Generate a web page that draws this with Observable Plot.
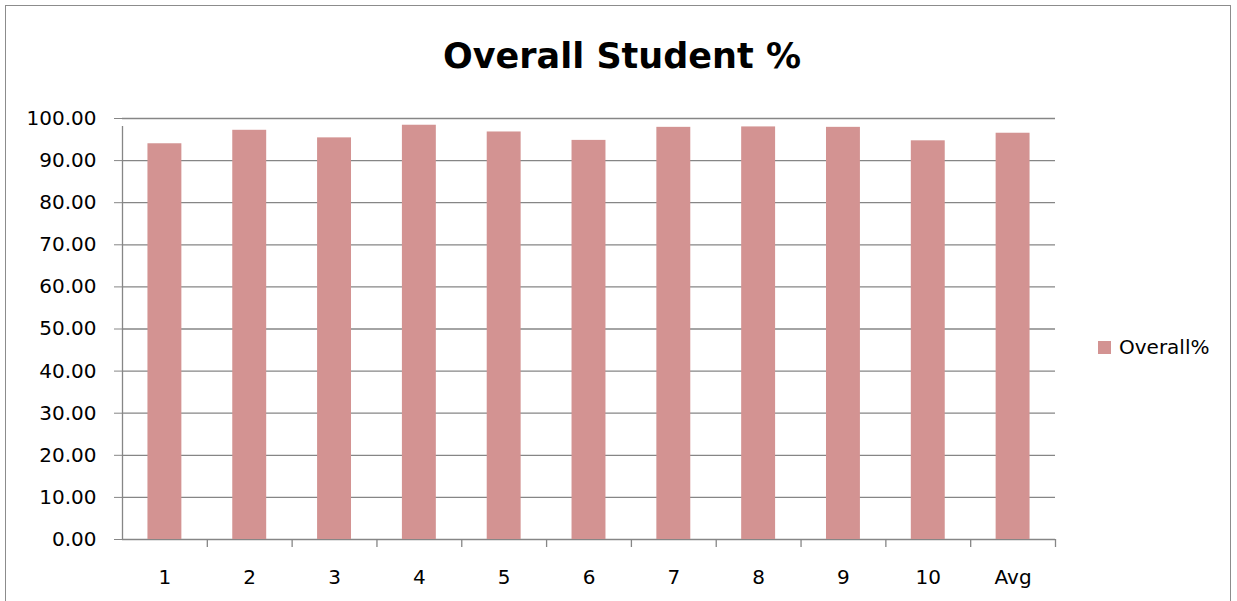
<!DOCTYPE html>
<html>
<head>
<meta charset="utf-8">
<script src="https://cdn.jsdelivr.net/npm/d3@7"></script>
<script src="https://cdn.jsdelivr.net/npm/@observablehq/plot@0.6"></script>
<style>
  html, body { margin: 0; padding: 0; background: #fff; overflow: hidden; }
  #wrap { position: relative; width: 1237px; height: 601px; font-family: "DejaVu Sans", sans-serif; }
  #border { position: absolute; left: 5px; top: 5px; width: 1226px; height: 620px; border: 1.5px solid #8c8c8c; box-sizing: border-box; }
  #title { position: absolute; left: 0; width: 1244px; top: 36px; text-align: center; font-weight: bold; font-size: 35px; color: #000; }
  #chart { position: absolute; left: 0; top: 0; }
  #legend { position: absolute; left: 1098px; top: 335px; font-size: 20px; color: #000; display: flex; align-items: center; }
  #legend .sw { width: 13px; height: 13px; background: #d39392; margin-right: 8px; }
</style>
</head>
<body>
<div id="wrap">
  <div id="border"></div>
  <div id="title">Overall Student %</div>
  <div id="chart"></div>
  <div id="legend"><div class="sw"></div><span>Overall%</span></div>
</div>
<script>
const categories = ["1", "2", "3", "4", "5", "6", "7", "8", "9", "10", "Avg"];
const overall = [94.0, 97.2, 95.4, 98.4, 96.8, 94.8, 97.9, 98.0, 97.9, 94.7, 96.5];
const yTicks = [0, 10, 20, 30, 40, 50, 60, 70, 80, 90, 100];
const seriesName = "Overall%";

const data = categories.map((c, i) => ({ cat: c, value: overall[i] }));

const W = 1237, H = 601;
const mL = 122, mR = 182, mT = 118, mB = 62;
const step = (W - mL - mR) / categories.length;
const grey = "#868686";

const chart = Plot.plot({
  width: W,
  height: H,
  marginLeft: mL,
  marginRight: mR,
  marginTop: mT,
  marginBottom: mB,
  style: { fontFamily: "DejaVu Sans, sans-serif", fontSize: "20px", color: "#000", background: "transparent" },
  x: { domain: categories, paddingInner: 0.6, paddingOuter: 0.3, align: 0.5, round: false, label: null },
  y: { domain: [0, 100], label: null },
  marks: [
    Plot.ruleY(yTicks, { stroke: grey, strokeWidth: 1.3, strokeOpacity: 1 }),
    Plot.barY(data, { x: "cat", y: "value", fill: "#d39392" }),
    Plot.axisY({ ticks: yTicks, tickFormat: d3.format(".2f"), tickSize: 8, tickPadding: 18, stroke: grey, strokeOpacity: 1, fill: "#000", fontSize: 20 }),
    // y axis line
    Plot.ruleX([categories[0]], { x: d => d, dx: -step / 2, y1: 0, y2: 100, insetBottom: -8, stroke: grey, strokeWidth: 1.3, strokeOpacity: 1 }),
    // category boundary ticks below the x axis
    Plot.ruleX(categories, { x: d => d, dx: step / 2, y1: 0, y2: 0, insetBottom: -8, stroke: grey, strokeWidth: 1.3, strokeOpacity: 1 }),
    Plot.axisX({ tickSize: 0, tickPadding: 30, fontSize: 20, fill: "#000" })
  ]
});
document.getElementById("chart").appendChild(chart);
</script>
</body>
</html>
